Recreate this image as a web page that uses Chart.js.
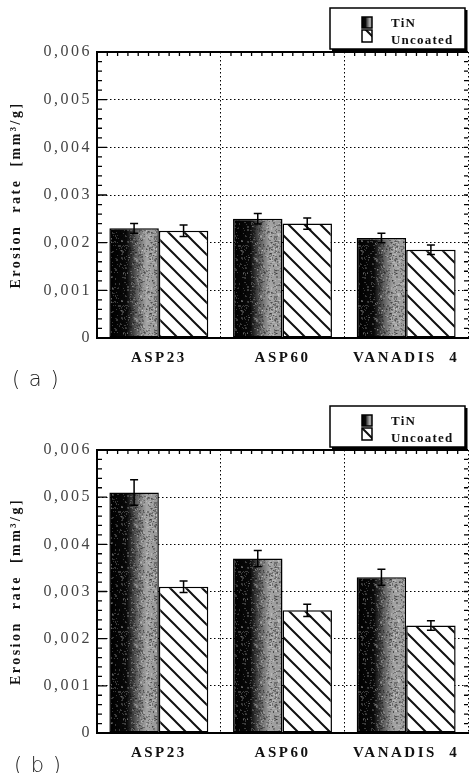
<!DOCTYPE html>
<html>
<head>
<meta charset="utf-8">
<script src="https://cdn.jsdelivr.net/npm/chart.js@4.4.0/dist/chart.umd.min.js"></script>
<style>
  body { margin: 0; background: #fff; width: 469px; height: 773px; overflow: hidden; position: relative; }
  canvas { position: absolute; left: 0; }
  .tag { position: absolute; font-family: "DejaVu Sans"; font-weight: 200; font-size: 21px; color: #222; letter-spacing: 1px; white-space: pre; }
</style>
</head>
<body>
<canvas id="chartA" width="469" height="386" style="top:0"></canvas>
<canvas id="chartB" width="469" height="387" style="top:386px"></canvas>
<div class="tag" style="left:12px;top:367px">( a )</div>
<div class="tag" style="left:14px;top:753px">( b )</div>
<script>
const categories = ['ASP23', 'ASP60', 'VANADIS  4'];
const seriesNames = ['TiN', 'Uncoated'];
const yTicks = [0, 0.001, 0.002, 0.003, 0.004, 0.005, 0.006];

// panel (a)
const tinA = [0.0023, 0.0025, 0.0021];
const tinErrA = [0.0001, 0.00011, 0.0001];
const uncoatedA = [0.00225, 0.0024, 0.00185];
const uncoatedErrA = [0.00012, 0.00012, 0.0001];

// panel (b)
const tinB = [0.0051, 0.0037, 0.0033];
const tinErrB = [0.00027, 0.00017, 0.00017];
const uncoatedB = [0.0031, 0.0026, 0.00228];
const uncoatedErrB = [0.00012, 0.00013, 0.0001];

const serif = 'Liberation Serif';

// texture for the TiN bars (fixed seed, only a look)
let seed = 11;
function rnd() { seed = (seed * 16807) % 2147483647; return seed / 2147483647; }
const speckle = document.createElement('canvas');
speckle.width = speckle.height = 60;
(function () {
  const g = speckle.getContext('2d');
  for (let i = 0; i < 900; i++) {
    const px = Math.floor(rnd() * 60), py = Math.floor(rnd() * 60);
    g.fillStyle = rnd() < 0.6 ? 'rgba(0,0,0,0.3)' : 'rgba(255,255,255,0.22)';
    g.fillRect(px, py, rnd() < 0.3 ? 2 : 1, rnd() < 0.3 ? 2 : 1);
  }
})();

function hatchPattern(ctx) {
  const s = 16;
  const c = document.createElement('canvas');
  c.width = c.height = s;
  const g = c.getContext('2d');
  g.fillStyle = '#fff';
  g.fillRect(0, 0, s, s);
  g.strokeStyle = '#111';
  g.lineWidth = 2;
  g.beginPath();
  for (const k of [-1, 0, 1]) {
    g.moveTo(-s, -s + k * s);
    g.lineTo(2 * s, 2 * s + k * s);
  }
  g.stroke();
  return ctx.createPattern(c, 'repeat');
}

function tinGradient(ctx, left, right) {
  const g = ctx.createLinearGradient(left, 0, right, 0);
  g.addColorStop(0, '#000');
  g.addColorStop(0.35, '#0a0a0a');
  g.addColorStop(0.55, '#5e5e5e');
  g.addColorStop(0.75, '#a4a4a4');
  g.addColorStop(1, '#969696');
  return g;
}

function tinFill(c) {
  const chart = c.chart, xs = chart.scales.x;
  if (!xs) return '#555';
  const w = xs.width / categories.length * 0.8 / 2;
  const mid = xs.getPixelForValue(c.dataIndex);
  if (!isFinite(mid) || !isFinite(w) || w <= 0) return '#555';
  return tinGradient(chart.ctx, mid - w, mid);
}

const decor = {
  id: 'decor',
  beforeDraw(chart) {
    chart.ctx.letterSpacing = '2.5px';
  },
  beforeDatasetsDraw(chart) {
    chart.ctx.letterSpacing = '0px';
  },
  afterDatasetsDraw(chart, args, opts) {
    const { ctx, scales: { y } } = chart;
    // speckles over the TiN bars
    chart.getDatasetMeta(0).data.forEach(el => {
      const p = el.getProps(['x', 'y', 'base', 'width'], true);
      ctx.save();
      ctx.beginPath();
      ctx.rect(p.x - p.width / 2 + 1.5, p.y + 1.5, p.width - 3, p.base - p.y - 3);
      ctx.clip();
      ctx.fillStyle = ctx.createPattern(speckle, 'repeat');
      ctx.fillRect(p.x - p.width / 2, p.y, p.width, p.base - p.y);
      ctx.restore();
    });
    // error bars
    ctx.save();
    ctx.strokeStyle = '#000';
    ctx.lineWidth = 1.5;
    opts.errors.forEach((errs, di) => {
      const vals = chart.data.datasets[di].data;
      chart.getDatasetMeta(di).data.forEach((el, i) => {
        const t = y.getPixelForValue(vals[i] + errs[i]);
        const b = y.getPixelForValue(vals[i] - errs[i]);
        ctx.beginPath();
        ctx.moveTo(el.x, t); ctx.lineTo(el.x, b);
        ctx.moveTo(el.x - 4, t); ctx.lineTo(el.x + 4, t);
        ctx.moveTo(el.x - 4, b); ctx.lineTo(el.x + 4, b);
        ctx.stroke();
      });
    });
    ctx.restore();
  },
  afterDraw(chart) {
    const { ctx, chartArea: a, scales: { x, y } } = chart;
    ctx.save();
    ctx.strokeStyle = '#000';
    // top frame
    ctx.lineWidth = 2;
    ctx.beginPath();
    ctx.moveTo(a.left - 1, a.top); ctx.lineTo(a.right, a.top);
    ctx.stroke();
    // y ticks, inward, major + minor
    ctx.lineWidth = 1.3;
    ctx.beginPath();
    for (let k = 0; k < yTicks.length - 1; k++) {
      for (let m = 0; m < 5; m++) {
        const v = yTicks[k] + (yTicks[k + 1] - yTicks[k]) * m / 5;
        const py = y.getPixelForValue(v);
        const len = m === 0 ? 10 : 5;
        ctx.moveTo(a.left, py); ctx.lineTo(a.left + len, py);
        ctx.moveTo(a.right, py); ctx.lineTo(a.right - 4, py);
      }
    }
    // top ticks
    const cw = x.width / categories.length;
    for (let i = 0; i < categories.length; i++) {
      for (let m = 1; m < 12; m++) {
        const px = x.getPixelForValue(i) - cw / 2 + cw * m / 12;
        ctx.moveTo(px, a.top); ctx.lineTo(px, a.top + 4);
      }
    }
    ctx.stroke();

    // legend box
    const x0 = 330, x1 = 465, y1 = a.top - 3, y0 = y1 - 41;
    ctx.fillStyle = '#fff';
    ctx.fillRect(x0, y0, x1 - x0, y1 - y0);
    ctx.lineWidth = 1.5;
    ctx.strokeRect(x0, y0, x1 - x0, y1 - y0);
    ctx.fillStyle = '#000';
    ctx.fillRect(x0 + 2, y1, x1 - x0, 2.5);
    ctx.fillRect(x1, y0 + 2, 2.5, y1 - y0);
    ctx.fillStyle = tinGradient(ctx, 362, 372);
    ctx.fillRect(362, y0 + 9, 10, 11);
    ctx.strokeRect(362, y0 + 9, 10, 11);
    ctx.fillStyle = hatchPattern(ctx);
    ctx.fillRect(362, y0 + 22, 10, 12);
    ctx.strokeRect(362, y0 + 22, 10, 12);
    ctx.fillStyle = '#111';
    ctx.font = 'bold 13px "' + serif + '"';
    ctx.letterSpacing = '1.2px';
    ctx.textBaseline = 'alphabetic';
    ctx.fillText(seriesNames[0], 391, y0 + 19);
    ctx.fillText(seriesNames[1], 391, y0 + 36);
    ctx.restore();
  }
};

function makeChart(id, tin, tinErr, unc, uncErr, padTop, axisH) {
  const canvas = document.getElementById(id);
  const grid = { color: '#000', lineWidth: 1, drawTicks: false };
  const border = { color: '#000', width: 2, dash: [1.5, 2.5] };
  return new Chart(canvas, {
    type: 'bar',
    data: {
      labels: categories,
      datasets: [
        { label: seriesNames[0], data: tin, backgroundColor: tinFill,
          borderColor: '#000', borderWidth: 1.5, borderSkipped: false },
        { label: seriesNames[1], data: unc, backgroundColor: hatchPattern(canvas.getContext('2d')),
          borderColor: '#000', borderWidth: 1.5, borderSkipped: false }
      ]
    },
    options: {
      responsive: false,
      animation: false,
      layout: { padding: { top: padTop, right: 1, left: 0, bottom: 0 } },
      datasets: { bar: { categoryPercentage: 0.8, barPercentage: 1 } },
      plugins: {
        legend: { display: false },
        tooltip: { enabled: false },
        decor: { errors: [tinErr, uncErr] }
      },
      scales: {
        x: {
          grid: { ...grid, offset: true },
          border,
          ticks: { font: { family: serif, weight: 'bold', size: 15 }, color: '#111', padding: 11 },
          afterFit: s => { s.height = axisH; }
        },
        y: {
          min: yTicks[0],
          max: yTicks[yTicks.length - 1],
          afterBuildTicks: s => { s.ticks = yTicks.map(v => ({ value: v })); },
          grid,
          border,
          ticks: {
            font: { family: serif, size: 16 }, color: '#444', padding: 5,
            callback: v => v === 0 ? '0' : v.toFixed(3).replace('.', ',')
          },
          title: {
            display: true, text: 'Erosion  rate  [mm³/g]', color: '#111',
            font: { family: serif, weight: 'bold', size: 14 }, padding: { top: 8, bottom: 0 }
          },
          afterFit: s => { s.width = 97; }
        }
      }
    },
    plugins: [decor]
  });
}

makeChart('chartA', tinA, tinErrA, uncoatedA, uncoatedErrA, 52, 48);
makeChart('chartB', tinB, tinErrB, uncoatedB, uncoatedErrB, 64, 40);
</script>
</body>
</html>
